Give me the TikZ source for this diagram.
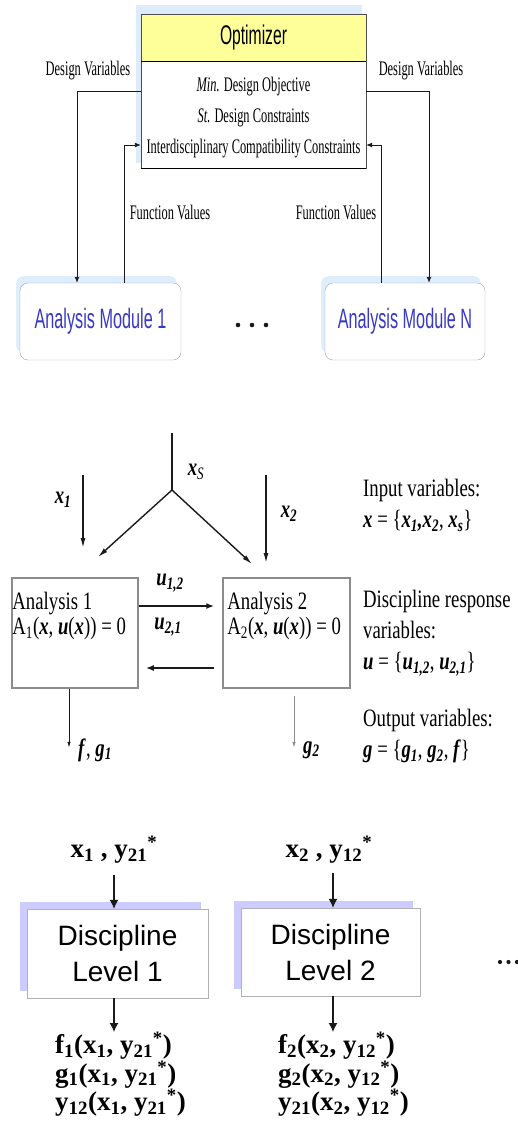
\documentclass[tikz,border=0pt]{standalone}
\usepackage{fontspec}
\usetikzlibrary{arrows.meta,positioning,calc,shadows}
\newfontfamily\topserif[FakeStretch=0.6]{Liberation Serif}
\newfontfamily\topsans[FakeStretch=0.58]{Liberation Sans}
\newfontfamily\midserif[FakeStretch=0.75]{Liberation Serif}
\newfontfamily\botserif{Liberation Serif}
\newfontfamily\botsans{Liberation Sans}
\newcommand\fsz[2]{\fontsize{#1}{#2}\selectfont}
\newcommand\bi[1]{\textbf{\textit{#1}}}
\newcommand\lo[1]{\textsubscript{#1}}
\newcommand\hi[1]{\textsuperscript{#1}}
\definecolor{ink}{HTML}{1A1A1A}
\definecolor{optshade}{HTML}{DDEBFB}
\definecolor{headyellow}{HTML}{FFFF99}
\definecolor{modshade}{HTML}{DEEEFD}
\definecolor{modblue}{HTML}{3838C8}
\definecolor{discshade}{HTML}{CCCCFF}
\definecolor{boxgray}{HTML}{8C8C8C}

\begin{document}
\begin{tikzpicture}[x=1pt, y=-1pt, >=Latex, line join=miter,
  opthead/.style={draw=black!70, fill=headyellow, minimum width=225pt,
                  minimum height=47pt, inner sep=0pt, font=\topsans\fsz{27pt}{30pt}},
  optbody/.style={draw=black!70, fill=white, minimum width=225pt,
                  minimum height=107pt, inner sep=0pt},
  optlines/.style={inner sep=0pt, align=center, font=\topserif\fsz{20.7pt}{31pt}},
  module/.style={draw=black!35, fill=white, rounded corners=8pt,
                 minimum width=161pt, minimum height=77pt, inner sep=0pt,
                 font=\topsans\fsz{28pt}{30pt}, text=modblue,
                 drop shadow={fill=modshade, opacity=1, shadow xshift=-4pt, shadow yshift=7pt}},
  toplab/.style={font=\topserif\fsz{20.7pt}{24pt}, inner sep=0pt},
  flow/.style={-{Latex[length=6pt,width=5pt]}, ink, line width=0.9pt},
  anabox/.style={draw=boxgray, line width=1.5pt, minimum width=126pt,
                 minimum height=110pt, inner sep=0pt},
  midlab/.style={font=\midserif\fsz{25pt}{31pt}, inner sep=0pt, align=left},
  fork/.style={ink, line width=1.4pt},
  forkarrow/.style={fork, -{Latex[length=10pt,width=5pt]}},
  resp/.style={ink, line width=2.2pt, -{Latex[length=8pt,width=6pt]}},
  outarrow/.style={ink, line width=0.9pt, -{Latex[length=6pt,width=3.5pt]}},
  discbox/.style={draw=black!30, fill=white, minimum width=181pt,
                  minimum height=89pt, inner sep=0pt, align=center,
                  font=\botsans\fsz{28pt}{36pt},
                  drop shadow={fill=discshade, opacity=1, shadow xshift=-7pt, shadow yshift=7pt}},
  botlab/.style={font=\botserif\bfseries\fsz{27pt}{25pt}, inner sep=0pt, align=left},
  botflow/.style={ink, line width=1.2pt, -{Latex[length=9pt,width=9pt]}}]

\useasboundingbox (0,0) rectangle (517,1130);

% ================================================================ optimizer loop
\fill[optshade] (136,5) rectangle (362,163);
\node[opthead] (opt) at (253.5,37.5) {Optimizer};
\node[optbody, below=0pt of opt] (optbody) {};
\node[optlines] at ([yshift=-3pt]optbody.center)
  {\textit{Min.} Design Objective\\
   \textit{St.} Design Constraints\\
   Interdisciplinary Compatibility Constraints};
\draw[line width=1.4pt] (opt.south west) -- (opt.south east);
\draw[line width=1.4pt] (optbody.south west) -- (optbody.south east);

\node[module] (mod1) at (100.5,321.5) {Analysis Module 1};
\node[module, minimum width=160pt] (modN) at (405,321.5) {Analysis Module N};
\foreach \x in {238,252,266} \fill[ink] (\x,325) circle (2.3);

\coordinate (dvL) at (77,91);
\coordinate (dvR) at (429,91);
\coordinate (fvL) at (124,145);
\coordinate (fvR) at (381,145);
\draw[flow] (optbody.west |- dvL) -| (dvL |- mod1.north);
\draw[flow] (optbody.east |- dvR) -| (dvR |- modN.north);
\draw[flow] (fvL |- mod1.north) |- (optbody.west |- fvL);
\draw[flow] (fvR |- modN.north) |- (optbody.east |- fvR);

\node[toplab] at (88,71) {Design Variables};
\node[toplab] at (421,71) {Design Variables};
\node[toplab] at (170,212) {Function Values};
\node[toplab] at (336,212) {Function Values};

% ================================================================ coupled analyses
\node[anabox] (ana1) at (75,633) {};
\node[anabox, minimum width=127pt] (ana2) at (286.5,633) {};
\node[midlab, anchor=north west] at ([shift={(1,15)}]ana1.north west)
  {Analysis 1\\[-6pt] A\lo{1}(\bi{x}, \bi{u}(\bi{x})) = 0};
\node[midlab, anchor=north west] at ([shift={(5,15)}]ana2.north west)
  {Analysis 2\\[-6pt] A\lo{2}(\bi{x}, \bi{u}(\bi{x})) = 0};

\coordinate (xsTop) at (172,433);
\coordinate (xsFork) at (172,490);
\coordinate (xsL) at (98,557);
\coordinate (xsR) at (252,564);
\coordinate (x1Top) at (83,475);
\coordinate (x1Tip) at (83,548);
\coordinate (x2Top) at (266,475);
\coordinate (x2Tip) at (266,563);
\draw[fork] (xsTop) -- (xsFork);
\draw[forkarrow] (xsFork) -- (xsL);
\draw[forkarrow] (xsFork) -- (xsR);
\draw[forkarrow] (x1Top) -- (x1Tip);
\draw[forkarrow] (x2Top) -- (x2Tip);
\node[midlab] at (196,472) {\bi{x}\lo{\textit{S}}};
\node[midlab] at (63,500) {\bi{x\lo{1}}};
\node[midlab] at (289,514) {\bi{x\lo{2}}};

\draw[resp, shorten >=8pt] ([yshift=27pt]ana1.east) -- ([yshift=27pt]ana2.west);
\draw[resp, shorten <=8pt, shorten >=7pt] ([yshift=-35pt]ana2.west) -- ([yshift=-35pt]ana1.east);
\node[midlab] at (170,583) {\bi{u\lo{1,2}}};
\node[midlab] at (168,627) {\bi{u\lo{2,1}}};

\draw[outarrow] ([xshift=-6pt]ana1.south) -- ++(0,59);
\draw[outarrow, black!45, shorten <=7pt] ([xshift=7.5pt]ana2.south) -- ++(0,59);
\node[midlab, anchor=west] at (78,750) {\bi{f}, \bi{g\lo{1}}};
\node[midlab, anchor=west] at (303,750) {\bi{g\lo{2}}};

\node[midlab, anchor=north west] at (363,479)
  {Input variables:\\ \bi{x} = \{\bi{x\lo{1},x\lo{2}}, \bi{x\lo{s}}\}};
\node[midlab, anchor=north west] at (363,590)
  {Discipline response\\ variables:\\ \bi{u} = \{\bi{u\lo{1,2}}, \bi{u\lo{2,1}}\}};
\node[midlab, anchor=north west] at (363,709)
  {Output variables:\\ \bi{g} = \{\bi{g\lo{1}}, \bi{g\lo{2}}, \bi{f}\}};

% ================================================================ discipline levels
\node[botlab] (in1) at (114,850) {x\lo{1} , y\lo{21}\hi{*}};
\node[botlab] (in2) at (329,850) {x\lo{2} , y\lo{12}\hi{*}};
\node[discbox] (disc1) at (117.5,953.5) {Discipline\\Level 1};
\node[discbox, minimum width=179pt, minimum height=88pt] (disc2) at (330.5,952) {Discipline\\Level 2};
\node[botlab, anchor=north west] (out1) at (55,1032)
  {f\lo{1}(x\lo{1}, y\lo{21}\hi{*})\\
   g\lo{1}(x\lo{1}, y\lo{21}\hi{*})\\
   y\lo{12}(x\lo{1}, y\lo{21}\hi{*})};
\node[botlab, anchor=north west] (out2) at (278,1032)
  {f\lo{2}(x\lo{2}, y\lo{12}\hi{*})\\
   g\lo{2}(x\lo{2}, y\lo{12}\hi{*})\\
   y\lo{21}(x\lo{2}, y\lo{12}\hi{*})};

\draw[botflow, shorten <=9pt] (in1) ++(0,16) -- (in1 |- disc1.north);
\draw[botflow, shorten <=9pt] ([xshift=4pt]in2.south) -- ([xshift=4pt]in2.south |- disc2.north);
\draw[botflow] (in1 |- disc1.south) -- (in1 |- out1.north);
\draw[botflow] ([xshift=4pt]in2 |- disc2.south) -- ([xshift=4pt]in2 |- out2.north);
\foreach \x in {500,508.5,517} \fill[ink] (\x,962) circle (2.1);

\end{tikzpicture}
\end{document}
